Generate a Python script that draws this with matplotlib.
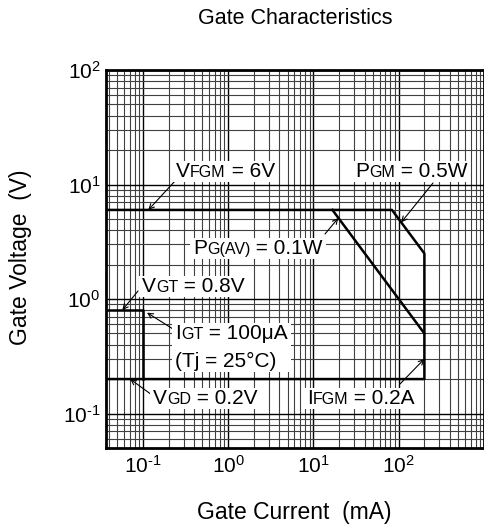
import matplotlib.pyplot as plt
from matplotlib.patches import Rectangle
from matplotlib.transforms import IdentityTransform

# Gate characteristics (log-log)
x_min, x_max = 0.037, 1000     # gate current axis (mA)
y_min, y_max = 0.05, 100       # gate voltage axis (V)

x_tick_exp = [-1, 0, 1, 2]
y_tick_exp = [-1, 0, 1, 2]

# outer limit: VFGM = 6V -> PGM = 0.5W -> IFGM = 0.2A -> VGD = 0.2V
limit_current = [x_min, 83.3, 200, 200, x_min]
limit_voltage = [6.0, 6.0, 2.5, 0.2, 0.2]

# PG(AV) = 0.1W
pgav_current = [16.7, 200]
pgav_voltage = [6.0, 0.5]

# VGT = 0.8V, IGT = 100uA box
vgt_current = [x_min, 0.1, 0.1]
vgt_voltage = [0.8, 0.8, 0.2]

plt.rcParams['font.family'] = ['Liberation Sans', 'DejaVu Sans']
plt.rcParams['axes.unicode_minus'] = False

W, H = 485, 529
fig = plt.figure(figsize=(W / 100, H / 100), dpi=100)
ax = fig.add_axes([106 / W, 1 - 448 / H, (484 - 106) / W, (448 - 70) / H])

ax.set_xscale('log')
ax.set_yscale('log')
ax.set_xlim(x_min, x_max)
ax.set_ylim(y_min, y_max)

ax.grid(True, which='major', color='black', lw=1.0)
ax.grid(True, which='minor', color='0.25', lw=0.8)
ax.set_axisbelow(True)


def exp_label(e):
    # short hyphen instead of the math minus, like the datasheet
    s = str(e).replace('-', '\u2010')
    return r'$\mathregular{10^{%s}}$' % s


ax.set_xticks([10.0 ** e for e in x_tick_exp])
ax.set_xticklabels([exp_label(e) for e in x_tick_exp])
ax.set_yticks([10.0 ** e for e in y_tick_exp])
ax.set_yticklabels([exp_label(e) for e in y_tick_exp])
ax.tick_params(which='both', length=0, labelsize=15)
ax.tick_params(axis='x', pad=5)
ax.tick_params(axis='y', pad=4)
for s in ax.spines.values():
    s.set_linewidth(2.0)

ax.plot(limit_current, limit_voltage, color='black', lw=1.8, zorder=3)
ax.plot(pgav_current, pgav_voltage, color='black', lw=1.8, zorder=3)
ax.plot(vgt_current, vgt_voltage, color='black', lw=1.8, zorder=3)

fig.text(295, H - 19, 'Gate Characteristics', fontsize=15.5, ha='center', va='center',
         transform=IdentityTransform())
fig.text(294, H - 513, 'Gate Current  (mA)', fontsize=16.5, ha='center', va='center',
         transform=IdentityTransform())
fig.text(21, H - 257, 'Gate Voltage  (V)', fontsize=16.5, ha='center', va='center',
         rotation=90, transform=IdentityTransform())

renderer = fig.canvas.get_renderer()
BIG, SMALL = 15, 11.5


def label(lines, x, y, dy=28):
    # lines: list of [(text, size), ...]; x = left edge, y = centre of caps (image px)
    boxes = []
    for k, parts in enumerate(lines):
        cur = x
        base = H - (y + k * dy + 7.4)
        for s, size in parts:
            t = fig.text(cur, base, s, fontsize=size, ha='left', va='baseline',
                         transform=IdentityTransform(), zorder=6)
            bb = t.get_window_extent(renderer)
            boxes.append(bb)
            cur = bb.x1
    x0 = min(b.x0 for b in boxes) - 3
    x1 = max(b.x1 for b in boxes) + 3
    y0 = min(b.y0 for b in boxes) - 1
    y1 = max(b.y1 for b in boxes) + 1
    fig.add_artist(Rectangle((x0, y0), x1 - x0, y1 - y0, fc='white', ec='none',
                             transform=IdentityTransform(), zorder=5))


def arrow(target, start):
    ax.annotate('', xy=target, xytext=(start[0], H - start[1]),
                textcoords='figure pixels',
                arrowprops=dict(arrowstyle='->', color='black', lw=0.8,
                                shrinkA=0, shrinkB=0, mutation_scale=9))


label([[('V', BIG), ('FGM', SMALL), (' = 6V', BIG)]], 176, 170)
arrow((0.116, 6.0), (175, 181))

label([[('P', BIG), ('GM', SMALL), (' = 0.5W', BIG)]], 355, 170)
arrow((107, 4.67), (433, 183))

label([[('P', BIG), ('G(AV)', SMALL), (' = 0.1W', BIG)]], 193, 247)
arrow((19.6, 5.1), (325, 234))

label([[('V', BIG), ('GT', SMALL), (' = 0.8V', BIG)]], 142, 285)
arrow((0.0575, 0.8), (138, 291))

label([[('I', BIG), ('GT', SMALL), (' = 100μA', BIG)],
       [('(Tj = 25°C)', BIG)]], 175, 332)
arrow((0.112, 0.76), (173, 329))

label([[('V', BIG), ('GD', SMALL), (' = 0.2V', BIG)]], 153, 397)
arrow((0.071, 0.2), (152, 395))

label([[('I', BIG), ('FGM', SMALL), (' = 0.2A', BIG)]], 307, 397)
arrow((200, 0.3), (400, 384))

fig.savefig('out.png', dpi=100)
